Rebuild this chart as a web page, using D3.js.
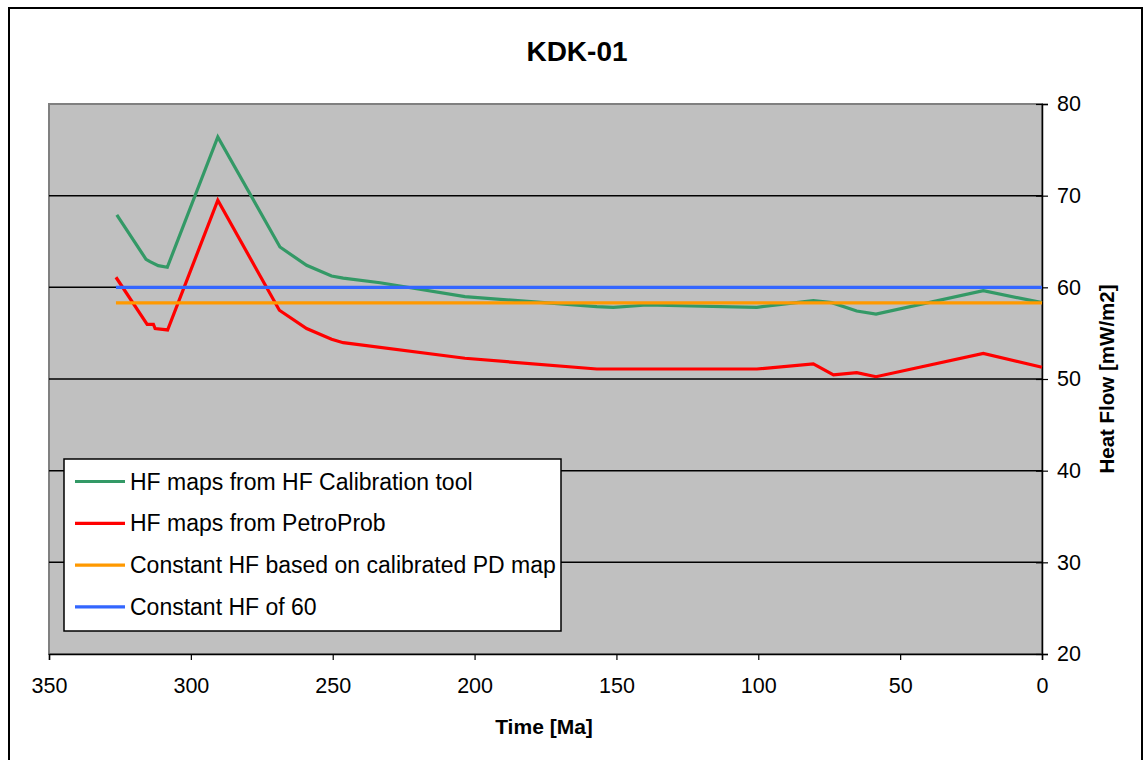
<!DOCTYPE html>
<html><head><meta charset="utf-8">
<script src="https://cdn.jsdelivr.net/npm/d3@7"></script>
<style>html,body{margin:0;padding:0;background:#fff;}svg{display:block;}</style>
</head><body>
<svg id="c" width="1145" height="760"></svg>
<script>
const title = "KDK-01";
const xTicks = [350, 300, 250, 200, 150, 100, 50, 0];
const yTicks = [20, 30, 40, 50, 60, 70, 80];
const seriesNames = ["HF maps from HF Calibration tool", "HF maps from PetroProb", "Constant HF based on calibrated PD map", "Constant HF of 60"];
const seriesColors = ["#339966", "#FF0000", "#FF9900", "#3366FF"];

const greenTime = [326.1, 315.8, 314.4, 311.5, 308.3, 290.5, 268.6, 259.2, 250.4, 246.3, 233.3, 203.4, 156.9, 151.1, 139.3, 100.5, 80.6, 74.1, 65.3, 58.5, 20.7, 0];
const greenHF   = [67.9, 63.06, 62.8, 62.36, 62.19, 76.4, 64.4, 62.4, 61.24, 61.0, 60.5, 58.98, 57.89, 57.82, 58.07, 57.82, 58.54, 58.33, 57.42, 57.09, 59.63, 58.33];
const redTime = [326.4, 315.4, 313.2, 312.6, 308.2, 290.5, 268.8, 259.2, 250.4, 246.3, 203.4, 156.9, 100.5, 80.6, 73.5, 65.3, 58.5, 20.7, 0];
const redHF   = [61.1, 55.97, 55.97, 55.5, 55.35, 69.5, 57.5, 55.5, 54.33, 53.96, 52.26, 51.09, 51.09, 51.64, 50.44, 50.69, 50.25, 52.8, 51.28];
const orangeTime = [326.4, 0];
const orangeHF = [58.3, 58.3];
const blueTime = [326.4, 0];
const blueHF = [60, 60];

const svg = d3.select("#c");
const L = 49, R = 1042, T = 104, B = 654;
const x = d3.scaleLinear().domain([350, 0]).range([L, R]);
const y = d3.scaleLinear().domain([20, 80]).range([B, T]);
const font = "Arial, 'Liberation Sans', sans-serif";

// outer border
svg.append("rect").attr("x", 9).attr("y", 8).attr("width", 1133).attr("height", 770)
  .attr("fill", "#fff").attr("stroke", "#000").attr("stroke-width", 2);

// plot area
svg.append("rect").attr("x", L).attr("y", T).attr("width", R - L).attr("height", B - T)
  .attr("fill", "#C0C0C0").attr("stroke", "#808080").attr("stroke-width", 2);

// gridlines
svg.append("g").selectAll("line").data(yTicks.filter(v => v > 20 && v < 80)).join("line")
  .attr("x1", L).attr("x2", R).attr("y1", d => y(d)).attr("y2", d => y(d))
  .attr("stroke", "#000").attr("stroke-width", 1.5);

// x axis
const xAx = svg.append("g").attr("transform", `translate(0,${B})`)
  .call(d3.axisBottom(x).tickValues(xTicks).tickSize(6).tickPadding(18).tickFormat(d3.format("d")));
xAx.select(".domain").attr("stroke", "#000").attr("stroke-width", 1.5);
xAx.selectAll(".tick line").attr("stroke", "#000").attr("stroke-width", 1.2);
xAx.selectAll("text").attr("font-family", font).attr("font-size", 21.5).attr("fill", "#000");

// right y axis
const yAx = svg.append("g").attr("transform", `translate(${R},0)`)
  .call(d3.axisRight(y).tickValues(yTicks).tickSize(6).tickPadding(9));
yAx.select(".domain").attr("stroke", "#000").attr("stroke-width", 1.5);
yAx.selectAll(".tick line").attr("x1", -6).attr("stroke", "#000").attr("stroke-width", 1.2);
yAx.selectAll("text").attr("font-family", font).attr("font-size", 21.5).attr("fill", "#000");

// lines
const line = d3.line().x(d => x(d[0])).y(d => y(d[1]));
const series = [
  [greenTime, greenHF], [redTime, redHF], [orangeTime, orangeHF], [blueTime, blueHF]
];
series.forEach((s, i) => {
  svg.append("path").datum(d3.zip(s[0], s[1]))
    .attr("d", line).attr("fill", "none").attr("stroke", seriesColors[i])
    .attr("stroke-width", 3.2).attr("stroke-linejoin", "miter");
});

// title
svg.append("text").attr("x", 577).attr("y", 61).attr("text-anchor", "middle")
  .attr("font-family", font).attr("font-weight", "bold").attr("font-size", 28).text(title);

// axis titles
svg.append("text").attr("x", 544).attr("y", 734).attr("text-anchor", "middle")
  .attr("font-family", font).attr("font-weight", "bold").attr("font-size", 21).text("Time [Ma]");
svg.append("text").attr("transform", `translate(1114,${(T + B) / 2}) rotate(-90)`)
  .attr("text-anchor", "middle").attr("font-family", font).attr("font-weight", "bold")
  .attr("font-size", 20.5).text("Heat Flow [mW/m2]");

// legend
const lg = svg.append("g");
lg.append("rect").attr("x", 64).attr("y", 459).attr("width", 497).attr("height", 172)
  .attr("fill", "#fff").attr("stroke", "#000").attr("stroke-width", 1.5);
seriesNames.forEach((n, i) => {
  const cy = 481.5 + i * 41.8;
  lg.append("line").attr("x1", 75).attr("x2", 125).attr("y1", cy).attr("y2", cy)
    .attr("stroke", seriesColors[i]).attr("stroke-width", 3.2);
  lg.append("text").attr("x", 130).attr("y", cy + 8).attr("font-family", font)
    .attr("font-size", 23).attr("fill", "#000").text(n);
});
</script>
</body></html>
